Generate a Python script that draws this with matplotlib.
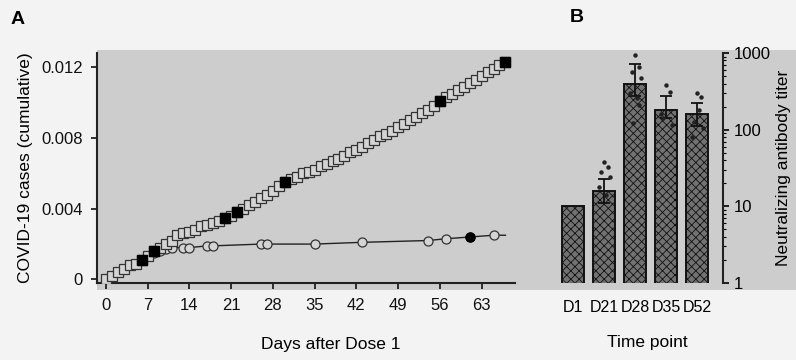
import matplotlib
matplotlib.use("Agg")
import matplotlib.pyplot as plt
from matplotlib.patches import Rectangle
import numpy as np

# ---------------- Panel A data ----------------
placebo_days = list(range(0, 68))
placebo_cases = [0, 0.0002, 0.0004, 0.0006, 0.0008, 0.0009, 0.0011, 0.0013, 0.0016, 0.0018,
                 0.0020, 0.0022, 0.0025, 0.0026, 0.0027, 0.0028, 0.0030, 0.0031, 0.0032, 0.0033,
                 0.0035, 0.0036, 0.0038, 0.0040, 0.0042, 0.0044, 0.0046, 0.0048, 0.0050, 0.0053,
                 0.0055, 0.0057, 0.0058, 0.0060, 0.0061, 0.0062, 0.0064, 0.0065, 0.0067, 0.0068,
                 0.0070, 0.0072, 0.0073, 0.0075, 0.0077, 0.0079, 0.0081, 0.0082, 0.0084, 0.0086,
                 0.0088, 0.0090, 0.0092, 0.0094, 0.0096, 0.0098, 0.0101, 0.0103, 0.0105, 0.0107,
                 0.0109, 0.0111, 0.0113, 0.0115, 0.0117, 0.0119, 0.0121, 0.0123]
placebo_filled_days = [6, 8, 20, 22, 30, 56, 67]

vaccine_days = [0, 1, 2, 3, 4, 5, 6, 7, 8, 9, 10, 11, 13, 14, 17, 18, 26, 27, 35, 43, 54, 57, 61, 65]
vaccine_cases = [0, 0.0002, 0.0004, 0.0006, 0.0008, 0.0009, 0.0011, 0.0013, 0.0015, 0.0016,
                 0.0017, 0.0018, 0.0018, 0.0018, 0.0019, 0.0019, 0.0020, 0.0020, 0.0020, 0.0021,
                 0.0022, 0.0023, 0.0024, 0.0025]
vaccine_filled_days = [61]
vaccine_line_end = (67, 0.0025)

x_ticks_A = [0, 7, 14, 21, 28, 35, 42, 49, 56, 63]
y_ticks_A = [0, 0.004, 0.008, 0.012]
y_ticklabels_A = ["0", "0.004", "0.008", "0.012"]

# ---------------- Panel B data ----------------
time_points = ["D1", "D21", "D28", "D35", "D52"]
titer_mean = [10, 15.7, 400, 183, 162]
titer_low = [10, 11, 272, 140, 110]
titer_high = [10, 23, 716, 272, 226]
titer_points = [
    [],
    [38, 33, 28, 24, 18, 14],
    [940, 660, 560, 470, 300, 258, 210, 122],
    [380, 310, 141, 115, 160],
    [300, 265, 125, 105, 80, 180],
]

plt.rcParams['font.family'] = ['Liberation Sans', 'DejaVu Sans']
plt.rcParams['hatch.color'] = '#4a4a4a'
plt.rcParams['hatch.linewidth'] = 0.6

W, H = 796, 360
fig = plt.figure(figsize=(W / 100, H / 100), dpi=100)
fig.patch.set_facecolor('#f3f3f3')

def fx(px):
    return px / W

def fy(py):
    return 1 - py / H

# gray backdrop (behind everything)
bg = fig.add_axes([0, 0, 1, 1], zorder=-10)
bg.set_xlim(0, 1)
bg.set_ylim(0, 1)
bg.axis('off')
bg.add_patch(Rectangle((fx(97), fy(290)), 1 - fx(97), fy(50) - fy(290),
                       facecolor='#cdcdcd', edgecolor='none'))

TICK_FS = 12
LABEL_FS = 12.5

# ---- Axes A ----
axA = fig.add_axes([fx(97), fy(283), fx(515) - fx(97), fy(53) - fy(283)])
axA.set_facecolor('none')
axA.set_xlim(-1.5, 68.6)
axA.set_ylim(-0.0002, 0.0128)

axA.plot(vaccine_days + [vaccine_line_end[0]], vaccine_cases + [vaccine_line_end[1]],
         color='#222222', lw=1.0, zorder=2)
axA.plot(vaccine_days, vaccine_cases, ls='none', marker='o', ms=6.5,
         mfc='#d4d4d4', mec='#333333', mew=0.9, zorder=3)
vf = [vaccine_cases[vaccine_days.index(d)] for d in vaccine_filled_days]
axA.plot(vaccine_filled_days, vf, ls='none', marker='o', ms=6.5, mfc='black', mec='black', zorder=4)

axA.plot(placebo_days, placebo_cases, color='#333333', lw=0.8, zorder=2)
axA.plot(placebo_days, placebo_cases, ls='none', marker='s', ms=6.5,
         mfc='#d4d4d4', mec='#333333', mew=0.9, zorder=3)
pf = [placebo_cases[placebo_days.index(d)] for d in placebo_filled_days]
axA.plot(placebo_filled_days, pf, ls='none', marker='s', ms=6.5, mfc='black', mec='black', zorder=4)

for s in ['top', 'right']:
    axA.spines[s].set_visible(False)
for s in ['left', 'bottom']:
    axA.spines[s].set_linewidth(1.5)
    axA.spines[s].set_color('#222222')
axA.set_xticks(x_ticks_A)
axA.set_yticks(y_ticks_A)
axA.set_yticklabels(y_ticklabels_A)
axA.tick_params(axis='both', direction='out', length=4, width=1.2, labelsize=TICK_FS,
                colors='#111111')
axA.tick_params(axis='x', pad=7)
axA.tick_params(axis='y', pad=6)
axA.set_ylabel("COVID-19 cases (cumulative)", fontsize=LABEL_FS, labelpad=6)
fig.text(fx(331), fy(344), "Days after Dose 1", fontsize=LABEL_FS, ha='center', va='center')

# ---- Axes B ----
axB = fig.add_axes([fx(555), fy(283), fx(723) - fx(555), fy(53) - fy(283)])
axB.set_facecolor('none')
axB.set_yscale('log')
axB.set_ylim(1, 1000)
axB.set_xlim(-0.58, 4.84)
xpos = np.arange(len(time_points))
axB.bar(xpos, titer_mean, width=0.68, color='#727272', edgecolor='#111111',
        linewidth=1.4, hatch='xxxx', zorder=2)
yerr_lo = [m - l for m, l in zip(titer_mean, titer_low)]
yerr_hi = [h - m for m, h in zip(titer_mean, titer_high)]
axB.errorbar(xpos[1:], titer_mean[1:], yerr=[yerr_lo[1:], yerr_hi[1:]], fmt='none',
             ecolor='#111111', elinewidth=1.3, capsize=4, capthick=1.3, zorder=4)
offsets = [0.0, 0.12, -0.1, 0.18, -0.15, 0.06, 0.14, -0.05]
for i, pts in enumerate(titer_points):
    for j, v in enumerate(pts):
        axB.plot(i + offsets[j % len(offsets)], v, marker='o', ms=2.2, color='#222222',
                 ls='none', zorder=5)

for s in ['top', 'left', 'bottom']:
    axB.spines[s].set_visible(False)
axB.spines['right'].set_linewidth(1.5)
axB.spines['right'].set_color('#222222')
axB.yaxis.tick_right()
axB.yaxis.set_label_position('right')
axB.set_yticks([1, 10, 100, 1000])
axB.set_yticklabels(["1", "10", "100", "1000"])
axB.tick_params(axis='y', which='major', direction='out', length=4, width=1.2, labelsize=TICK_FS)
axB.tick_params(axis='y', which='minor', direction='out', length=2, width=0.8)
axB.set_xticks(xpos)
axB.set_xticklabels(time_points)
axB.tick_params(axis='x', length=0, pad=12, labelsize=11.5)
axB.set_ylabel("Neutralizing antibody titer", fontsize=LABEL_FS, labelpad=4)
fig.text(fx(647), fy(343), "Time point", fontsize=LABEL_FS, ha='center', va='center')

fig.text(fx(18), fy(20), "A", fontsize=14, ha='center', va='center', fontweight='bold')
fig.text(fx(577), fy(17), "B", fontsize=14, ha='center', va='center', fontweight='bold')

fig.savefig("out.png", dpi=100, facecolor=fig.get_facecolor())
